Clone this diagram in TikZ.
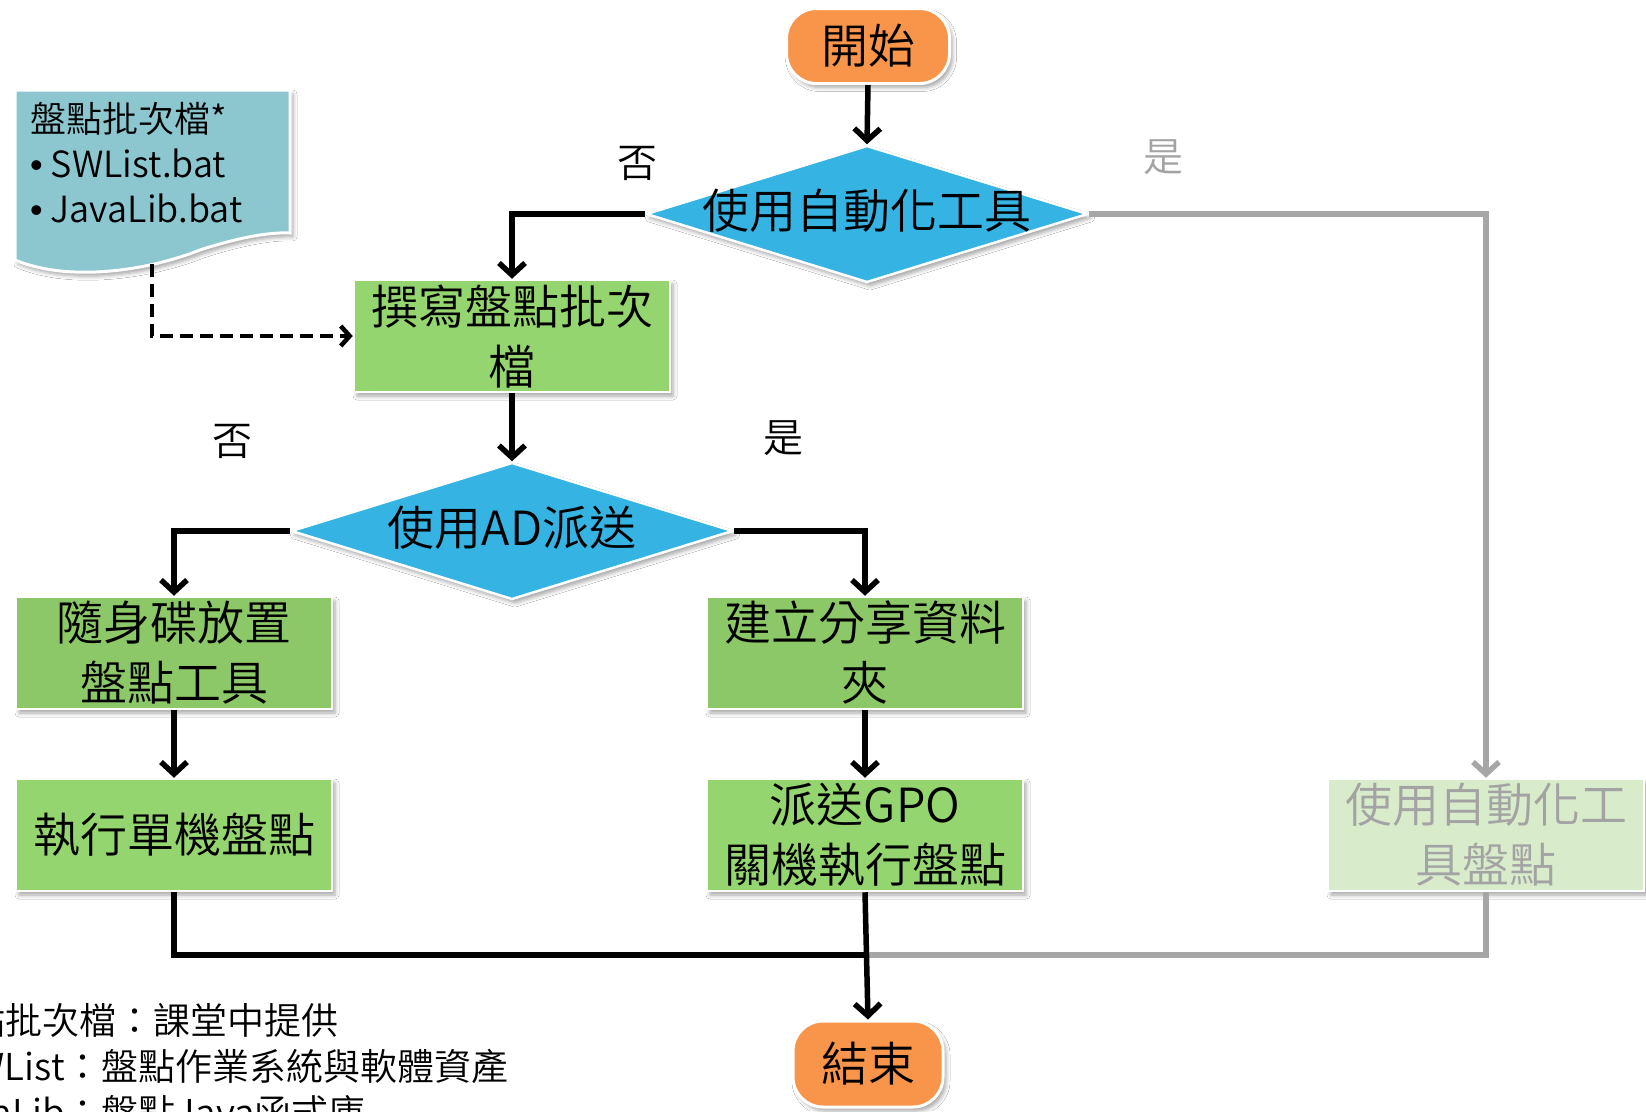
\documentclass[tikz,border=0pt]{standalone}
\usepackage{fontspec}
\setmainfont{Noto Sans CJK TC}[UprightFont={* DemiLight}]
\newfontfamily\bulletfont{Liberation Sans}
\usetikzlibrary{arrows.meta,shapes.geometric,shadows.blur}

\definecolor{termfill}{HTML}{F9954A}
\definecolor{decfill}{HTML}{35B3E2}
\definecolor{procfill}{HTML}{95D570}
\definecolor{procdark}{HTML}{8CC867}
\definecolor{docfill}{HTML}{8CC7D0}
\definecolor{palefill}{HTML}{D8ECCB}
\definecolor{paletext}{HTML}{A3A3A3}
\definecolor{paleline}{HTML}{A6A6A6}

\tikzset{
  every node/.style={inner sep=0pt},
  big/.style={font=\fontsize{47}{60}\selectfont},
  softshadow/.style={blur shadow={shadow xshift=3pt, shadow yshift=-4pt,
      shadow blur radius=4pt, shadow opacity=35}},
  terminal/.style={big, rectangle, rounded corners=30pt, fill=termfill,
      draw=white, line width=3pt, softshadow},
  process/.style={big, rectangle, fill=procfill, draw=white, line width=2.5pt,
      minimum width=316pt, minimum height=112pt, align=center, softshadow},
  decision/.style={diamond, aspect=3.2, fill=decfill, draw=white,
      line width=2.5pt, minimum width=442pt, minimum height=137pt, softshadow},
  lbl/.style={font=\fontsize{40}{48}\selectfont},
  note/.style={font=\fontsize{37}{46}\selectfont},
  flow/.style={line width=5.5pt, -{Straight Barb[length=12pt,width=26pt]}},
  plain/.style={line width=5.5pt},
  paleflow/.style={flow, draw=paleline},
  paleplain/.style={plain, draw=paleline},
  dashflow/.style={line width=4.5pt, dash pattern=on 13pt off 7pt,
      -{Straight Barb[length=9pt,width=20pt]}},
}

\begin{document}
\begin{tikzpicture}[x=1pt,y=-1pt]
  \useasboundingbox (0,0) rectangle (1646,1111);
  \fill[white] (0,0) rectangle (1646,1111);
  \clip (0,0) rectangle (1646,1111);

  % document shape with the batch file list
  \path[fill=docfill, draw=white, line width=3pt, softshadow]
    (15,90) -- (290,90) -- (290,233)
    .. controls (270,232) and (240,237) .. (200,250)
    .. controls (150,270) and (70,283) .. (15,260) -- cycle;
  \node[anchor=west, align=left, font=\fontsize{36}{45}\selectfont]
    (doctext) at (30,163)
    {盤點批次檔*\\{\bulletfont •} SWList.bat\\{\bulletfont •} JavaLib.bat};
  \coordinate (docfoot) at (152,264);

  % flow nodes
  \node[terminal, minimum width=163pt, minimum height=75pt] (start) at (868,46) {開始};
  \node[decision] (auto) at (867,214) {};
  \node[big] (autotext) at (867,211) {使用自動化工具};

  \node[process] (write) at (512,336) {撰寫盤點批次\\檔};
  \node[decision] (ad) at (512,531) {};
  \node[big] (adtext) at (512,528) {使用AD派送};

  \node[process, fill=procdark] (usb) at (174,653) {隨身碟放置\\盤點工具};
  \node[process] (run) at (174,835) {執行單機盤點};
  \node[process, fill=procdark] (share) at (865,653) {建立分享資料\\夾};
  \node[process] (gpo) at (865,835) {派送GPO\\關機執行盤點};
  \node[process, fill=palefill, text=paletext] (tool) at (1486,835) {使用自動化工\\具盤點};

  \node[terminal, minimum width=150pt, minimum height=86pt] (end) at (868,1064) {結束};

  % branch labels
  \node[lbl] (no1) at (637,163) {否};
  \node[lbl, text=paletext] (yes1) at (1163,157) {是};
  \node[lbl] (no2) at (232,441) {否};
  \node[lbl] (yes2) at (783,438) {是};

  % footnotes
  \node[note, anchor=east] (n1) at (339,1020) {盤點批次檔：課堂中提供};
  \node[note, anchor=east] (n2) at (509,1066) {SWList：盤點作業系統與軟體資產};
  \node[note, anchor=east] (n3) at (366,1112) {JavaLib：盤點Java函式庫};

  % connectors
  \coordinate (join) at (865,955);
  \draw[flow] (start.south) -- (auto.north);
  \draw[flow] (auto.west) -| (write.north);
  \draw[paleflow] (auto.east) -| (tool.north);
  \draw[dashflow] (docfoot) |- (write.west);
  \draw[flow] (write.south) -- (ad.north);
  \draw[flow] (ad.west) -| (usb.north);
  \draw[flow] (ad.east) -| (share.north);
  \draw[flow] (usb.south) -- (run.north);
  \draw[flow] (share.south) -- (gpo.north);
  \draw[paleplain] (tool.south) |- (join);
  \draw[plain] (run.south) |- (join);
  \draw[flow] (gpo.south) -- (end.north);
\end{tikzpicture}
\end{document}
